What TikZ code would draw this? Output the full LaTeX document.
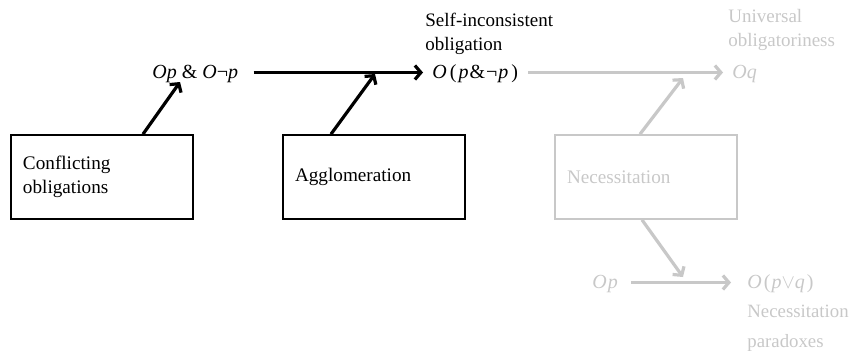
\documentclass[tikz,border=0pt]{standalone}
\usepackage{fontspec}
\setmainfont{Liberation Serif}
\usetikzlibrary{arrows.meta}
\definecolor{claro}{RGB}{200,200,200}

\begin{document}
\begin{tikzpicture}[x=0.5pt, y=-0.5pt,
	caixa/.style={draw, rectangle, line width=0.85pt, minimum height=42pt, text width=79pt, inner xsep=6pt, align=left, font=\fontsize{9.6}{12}\selectfont},
	form/.style={inner sep=0pt, text height=8pt, text depth=2.5pt, anchor=west, font=\fontsize{10}{12}\selectfont},
	rot/.style={inner sep=0pt, anchor=base west, align=left, font=\fontsize{9.5}{12}\selectfont},
	setap/.style={-{Straight Barb[length=3pt,width=7pt]}, line width=1.6pt},
	setac/.style={setap, draw=claro}
	]
	\useasboundingbox (0,0) rectangle (851,354);

	\node[caixa] (cf) at (102,177) {Conflicting\\obligations};
	\node[caixa] (ag) at (374,177) {Agglomeration};
	\node[caixa, draw=claro, text=claro] (nec) at (646,177) {Necessitation};

	% formulas (the base line sits 5.5px under the arrows)
	\node[form] (conj) at (152,72.5) {\textit{Op} \& \textit{O}¬\textit{p}};
	\node[form] (incons) at (432,72.5) {\textit{O}\kern1.5pt(\kern1pt\textit{p}\kern0.5pt\&\kern0.5pt¬\kern0.5pt\textit{p}\kern1.5pt)};
	\node[form, text=claro] (oq) at (732,72.5) {\textit{Oq}};
	\node[form, text=claro] (opb) at (592,282.5) {\textit{O\kern0.5pt p}};
	\node[form, text=claro] (disj) at (747,282.5) {\textit{O}\kern1pt(\kern0.5pt\textit{p}$\vee$\textit{q}\kern1pt)};

	% labels: base is the last line
	\node[rot] (rinc) at (425,50) {Self-inconsistent\\obligation};
	\node[rot, text=claro] (runi) at (728,46) {Universal\\obligatoriness};
	\node[rot, text=claro, font=\fontsize{9.4}{15}\selectfont] (rpar) at (747,347) {Necessitation\\paradoxes};

	\coordinate (t1) at (180,82);
	\coordinate (t2) at (375,74);
	\coordinate (t3) at (683,78);
	\coordinate (t4) at (683,277);

	\draw[setap] ([xshift=7.5pt]conj.east) -- ([xshift=-4.5pt]incons.west);
	\draw[setap] ([xshift=20.5pt]cf.north) -- (t1);
	\draw[setap] ([xshift=-21.5pt]ag.north) -- (t2);
	\draw[setac] ([xshift=5pt]incons.east) -- ([xshift=-4.5pt]oq.west);
	\draw[setac] ([xshift=-3pt]nec.north) -- (t3);
	\draw[setac] ([xshift=-2pt]nec.south) -- (t4);
	\draw[setac] ([xshift=6.5pt]opb.east) -- ([xshift=-8pt]disj.west);
\end{tikzpicture}
\end{document}
